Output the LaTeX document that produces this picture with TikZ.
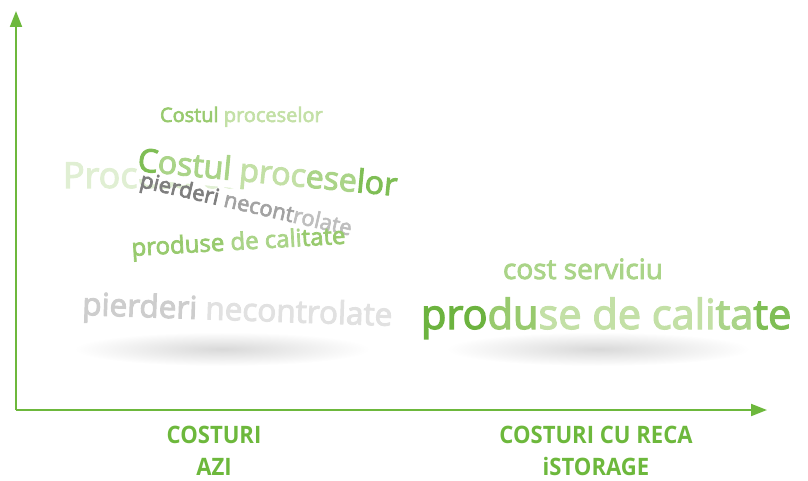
\documentclass[tikz,border=0pt]{standalone}
\usepackage{fontspec}
\setmainfont{Open Sans}
\newfontfamily\semib{Open Sans}[FakeBold=3]
\usetikzlibrary{arrows.meta}

\definecolor{axisgreen}{HTML}{6DB83C}
\definecolor{gdark}{HTML}{6CB33F}
\definecolor{gmidA}{HTML}{7FBE55}
\definecolor{gmidB}{HTML}{98CA6E}
\definecolor{gmidC}{HTML}{AAD488}
\definecolor{glight}{HTML}{C3E0A6}
\definecolor{gghost}{HTML}{E0EFD3}
\definecolor{grayA}{HTML}{7E7E7E}
\definecolor{grayB}{HTML}{A2A2A2}
\definecolor{grayC}{HTML}{BEBEBE}
\definecolor{grayD}{HTML}{CDCDCD}
\definecolor{grayE}{HTML}{E1E1E1}

\newcommand{\fsz}[1]{\semib\fontsize{#1}{#1}\selectfont}

\begin{document}
\begin{tikzpicture}
  [x=1pt,y=-1pt,
   every node/.style={inner sep=0pt,outer sep=0pt},
   word/.style={anchor=base west},
   costlabel/.style={font=\bfseries\fontsize{24}{32}\selectfont,text=axisgreen,align=center,xscale=.92},
   axis/.style={draw=axisgreen,line width=2pt,-{Triangle[length=16pt,width=12pt]}}]
  \useasboundingbox (0,0) rectangle (808,481);

  % umbre
  \shade[inner color=black!15,outer color=white] (222,349) ellipse [x radius=148,y radius=17];
  \shade[inner color=black!15,outer color=white] (598,349) ellipse [x radius=152,y radius=17];

  % axe
  \coordinate (origin) at (16,410);
  \coordinate (ytip) at (16,11);
  \coordinate (xtip) at (767,410);
  \draw[axis] (origin) -- (ytip);
  \draw[axis] (origin) -- (xtip);

  % costuri azi
  \node[word,font=\fsz{20}] (cp1) at (160,122) {{\color{gmidB}Costul} {\color{glight}proceselor}};
  \node[word,font=\fsz{36},text=gghost] (pc) at (63,188) {Process costs};
  \node[word,font=\fsz{32},rotate=-5.5,fill=white] (cp2) at (137,171)
    {{\color{gmidA}C}{\color{gmidC}ostul} {\color{glight}proc}{\color{gmidC}ese}{\color{gmidA}lor}};
  \node[word,font=\fsz{22},rotate=-13] (pn1) at (139,187)
    {{\color{grayA}pierderi} {\color{grayB}necont}{\color{grayC}rolate}};
  \node[word,font=\fsz{24},rotate=3.3] (pq1) at (132,256)
    {{\color{gmidB}produse} {\color{gmidC}de cali}{\color{gmidB}tate}};
  \node[word,font=\fsz{31.5},rotate=-2] (pn2) at (82,315)
    {{\color{grayD}pierderi} {\color{grayE}necontrolate}};

  % costuri cu reca istorage
  \node[word,font=\fsz{28},text=gmidC] (cs) at (503,279) {cost serviciu};
  \node[word,font=\fsz{41.5}] (pq2) at (421,329)
    {{\color{gdark}pro}{\color{gmidB}du}{\color{glight}se de cali}{\color{gmidC}ta}{\color{gmidA}te}};

  % etichete
  \node[costlabel] (lblnow) at (214,451) {COSTURI\\AZI};
  \node[costlabel] (lblreca) at (596,451) {COSTURI CU RECA\\iSTORAGE};
\end{tikzpicture}
\end{document}
